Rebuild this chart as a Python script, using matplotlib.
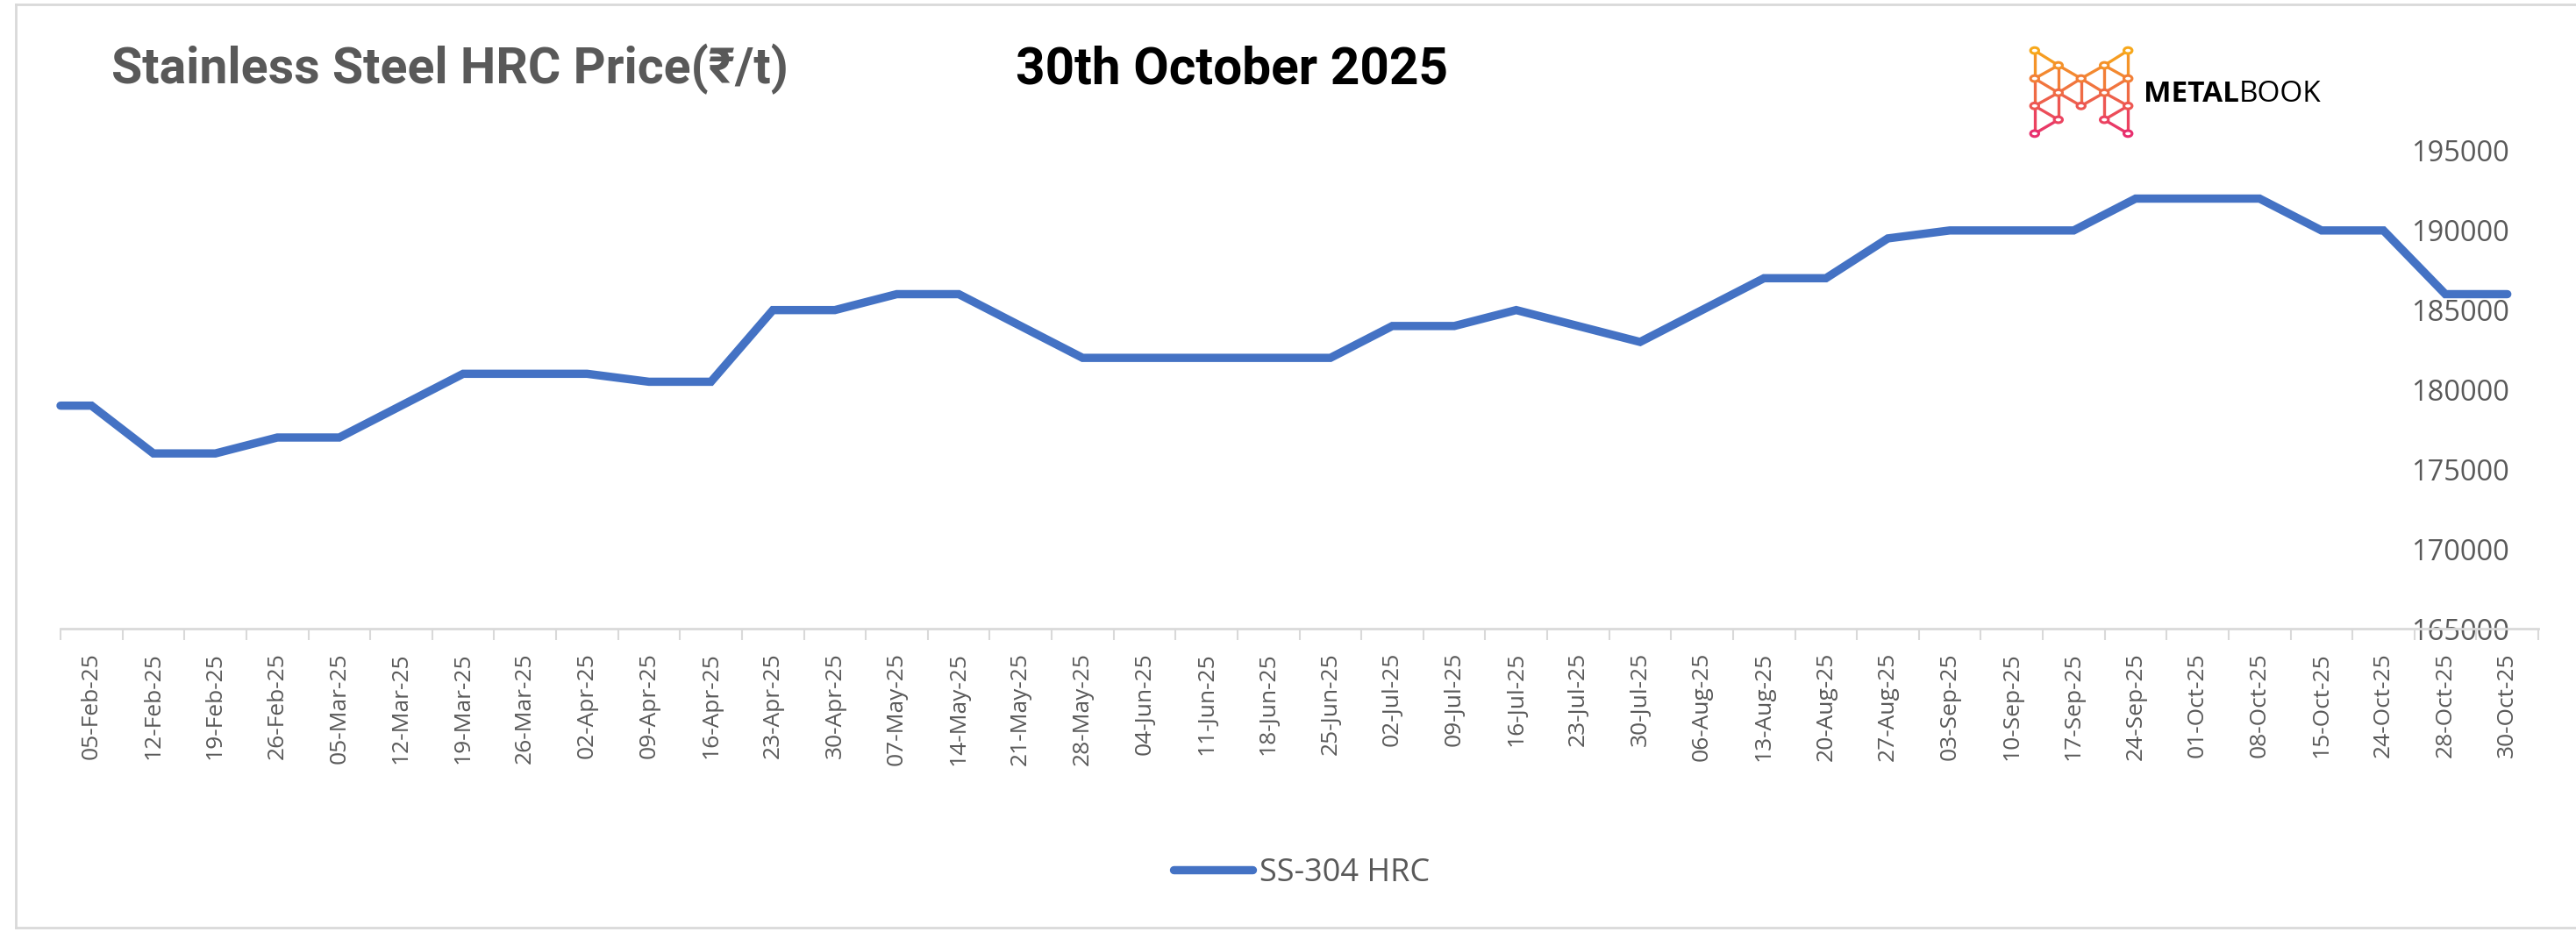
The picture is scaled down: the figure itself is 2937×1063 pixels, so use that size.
import numpy as np
import matplotlib
matplotlib.use('Agg')
import matplotlib.pyplot as plt
from matplotlib.lines import Line2D
from matplotlib.patches import Circle

# ---------------- data ----------------
dates = ['05-Feb-25', '12-Feb-25', '19-Feb-25', '26-Feb-25', '05-Mar-25', '12-Mar-25',
         '19-Mar-25', '26-Mar-25', '02-Apr-25', '09-Apr-25', '16-Apr-25', '23-Apr-25',
         '30-Apr-25', '07-May-25', '14-May-25', '21-May-25', '28-May-25', '04-Jun-25',
         '11-Jun-25', '18-Jun-25', '25-Jun-25', '02-Jul-25', '09-Jul-25', '16-Jul-25',
         '23-Jul-25', '30-Jul-25', '06-Aug-25', '13-Aug-25', '20-Aug-25', '27-Aug-25',
         '03-Sep-25', '10-Sep-25', '17-Sep-25', '24-Sep-25', '01-Oct-25', '08-Oct-25',
         '15-Oct-25', '24-Oct-25', '28-Oct-25', '30-Oct-25']
prices = [179000, 176000, 176000, 177000, 177000, 179000,
          181000, 181000, 181000, 180500, 180500, 185000,
          185000, 186000, 186000, 184000, 182000, 182000,
          182000, 182000, 182000, 184000, 184000, 185000,
          184000, 183000, 185000, 187000, 187000, 189500,
          190000, 190000, 190000, 192000, 192000, 192000,
          190000, 190000, 186000, 186000]
y_ticks = [165000, 170000, 175000, 180000, 185000, 190000, 195000]
series_name = 'SS-304 HRC'
title_text = 'Stainless Steel HRC Price(\u20b9/t)'
date_text = '30th October 2025'
brand_bold = 'METAL'
brand_light = 'BOOK'

# ---------------- figure ----------------
W, H, DPI = 2937, 1063, 100
fig = plt.figure(figsize=(W / DPI, H / DPI), dpi=DPI)
fig.patch.set_facecolor('white')
FONT = ['Open Sans', 'Noto Sans', 'DejaVu Sans']
TFONT = ['Liberation Sans Narrow', 'Roboto', 'Noto Sans', 'DejaVu Sans']
plt.rcParams['font.family'] = FONT
GRAY = '#595959'
AXGRAY = '#D9D9D9'
BLUE = '#4472C4'


def fx(px):
    return px / W


def fy(py):
    return 1 - py / H


# chart border
for xs, ys in [([18, W], [5, 5]), ([18, 18], [5, 1058]), ([18, W], [1058, 1058])]:
    fig.add_artist(Line2D([fx(v) for v in xs], [fy(v) for v in ys], color=AXGRAY, lw=2))

ax = fig.add_axes([fx(69), fy(717), fx(2894) - fx(69), fy(172) - fy(717)])
x = np.arange(len(dates))
ax.plot(np.r_[-0.5, x], np.r_[prices[0], prices], color=BLUE, lw=6.8,
        solid_capstyle='round', solid_joinstyle='miter', label=series_name, clip_on=False)
ax.set_xlim(-0.5, len(dates) - 0.5)
ax.set_ylim(y_ticks[0], y_ticks[-1])

for s in ['top', 'left', 'right']:
    ax.spines[s].set_visible(False)
ax.spines['bottom'].set_color(AXGRAY)
ax.spines['bottom'].set_linewidth(2)

ax.set_xticks(x)
ax.set_xticklabels(dates, rotation=90)
ax.set_xticks(np.arange(len(dates) + 1) - 0.5, minor=True)
ax.tick_params(axis='x', which='major', length=0, pad=19.5, labelsize=19, labelcolor=GRAY)
ax.tick_params(axis='x', which='minor', length=9.5, width=1.5, color=AXGRAY, direction='out')

ax.set_yticks(y_ticks)
ax.set_yticklabels([str(v) for v in y_ticks])
ax.tick_params(axis='y', which='both', left=False, right=False, labelleft=False,
               labelright=True, labelsize=23.5, labelcolor=GRAY, pad=-27.5)
for t in ax.yaxis.get_major_ticks():
    t.label2.set_horizontalalignment('right')

leg = ax.legend(loc='center', bbox_to_anchor=(fx(1484), fy(996)), bbox_transform=fig.transFigure,
                frameon=False, fontsize=26, handlelength=2.5, handletextpad=0.2, labelcolor=GRAY)

# titles
t1 = fig.text(fx(127), fy(79), title_text, fontsize=34, fontweight='bold', color=GRAY,
              ha='left', va='center', family=TFONT)
t2 = fig.text(fx(1158), fy(79), date_text, fontsize=34, fontweight='bold', color='black',
              ha='left', va='center', family=TFONT)

fig.canvas.draw()
r = fig.canvas.get_renderer()
for t, target in [(t1, 772), (t2, 493)]:
    w = t.get_window_extent(r).width
    t.set_fontsize(t.get_fontsize() * target / w)

# logo icon
lax = fig.add_axes([fx(2312), fy(158), fx(2434) - fx(2312), fy(52) - fy(158)])
lax.set_axis_off()
nodes = {
    'L0': (185, 100), 'L1': (185, 185), 'L2': (185, 268), 'L3': (185, 352),
    'I0': (237, 145), 'I1': (237, 228), 'I2': (237, 310),
    'C0': (287, 185), 'C1': (287, 268),
    'J0': (338, 145), 'J1': (338, 228), 'J2': (338, 310),
    'R0': (390, 100), 'R1': (390, 185), 'R2': (390, 268), 'R3': (390, 352),
}
edges = [('L0', 'L1'), ('L1', 'L2'), ('L2', 'L3'), ('L0', 'I0'), ('I0', 'C0'), ('L1', 'I0'),
         ('L1', 'I1'), ('I0', 'I1'), ('I1', 'C0'), ('I1', 'C1'), ('L2', 'I1'), ('L2', 'I2'),
         ('L3', 'I2'), ('I1', 'I2'), ('C0', 'C1'),
         ('R0', 'R1'), ('R1', 'R2'), ('R2', 'R3'), ('R0', 'J0'), ('J0', 'C0'), ('R1', 'J0'),
         ('R1', 'J1'), ('J0', 'J1'), ('J1', 'C0'), ('J1', 'C1'), ('R2', 'J1'), ('R2', 'J2'),
         ('R3', 'J2'), ('J1', 'J2')]
c_top = np.array([0xF7, 0xA8, 0x1B]) / 255
c_bot = np.array([0xE8, 0x2F, 0x6E]) / 255


def grad(yv):
    f = (yv - 100) / 252
    return tuple(c_top * (1 - f) + c_bot * f)


for a, b in edges:
    (x1, y1), (x2, y2) = nodes[a], nodes[b]
    lax.plot([x1, x2], [y1, y2], color=grad((y1 + y2) / 2), lw=2.4, solid_capstyle='round')
for k, (nx, ny) in nodes.items():
    lax.add_patch(Circle((nx, ny), 9, facecolor='white', edgecolor=grad(ny), lw=2.2, zorder=3))
lax.set_xlim(170, 405)
lax.set_ylim(367, 85)

# brand text
tb1 = fig.text(fx(2444), fy(107), brand_bold, fontsize=22, fontweight='bold', color='black',
               ha='left', va='center', family=FONT)
tb2 = fig.text(fx(2444), fy(107), brand_light, fontsize=22, color='black',
               ha='left', va='center', family=FONT)
fig.canvas.draw()
r = fig.canvas.get_renderer()
w_total = tb1.get_window_extent(r).width + tb2.get_window_extent(r).width
scale = 203 / w_total
tb1.set_fontsize(22 * scale)
tb2.set_fontsize(22 * scale)
fig.canvas.draw()
r = fig.canvas.get_renderer()
tb2.set_x(tb1.get_window_extent(r).x1 / W)

fig.savefig('out.png', dpi=DPI, facecolor='white')
